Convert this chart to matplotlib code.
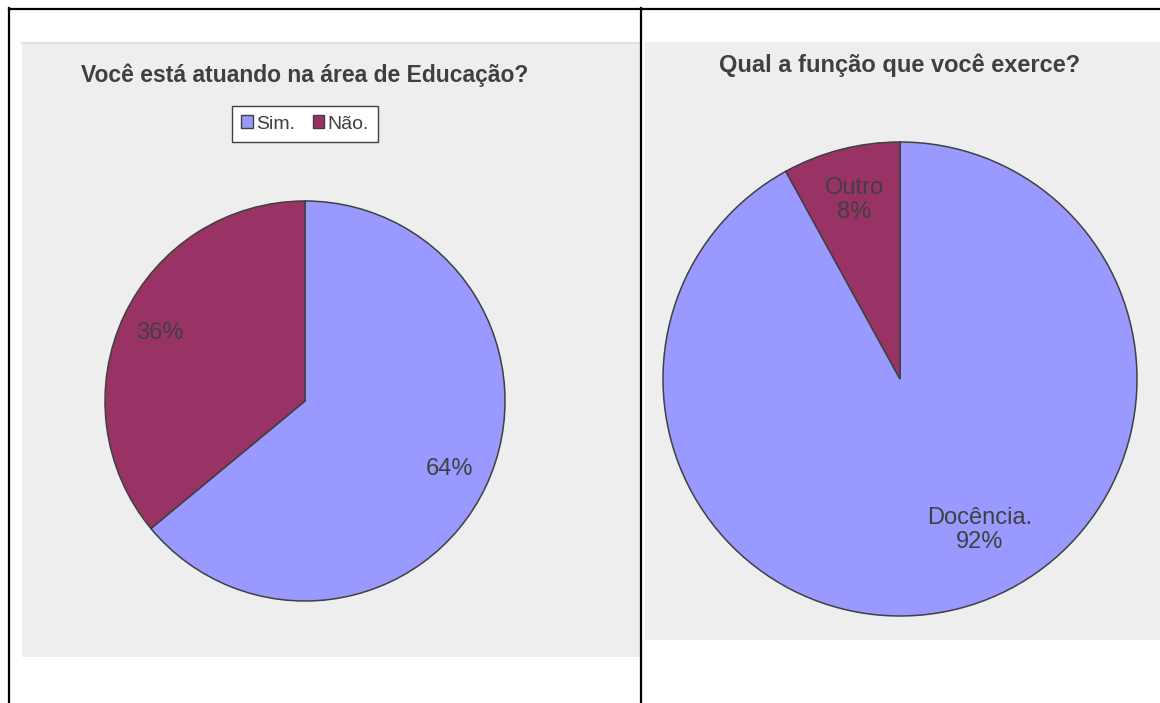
# duas pizzas lado a lado, dentro de uma moldura de tabela
import matplotlib.pyplot as plt
import numpy as np
from matplotlib.patches import Rectangle, Patch

plt.rcParams['font.family'] = ['Liberation Sans', 'DejaVu Sans']

W, H = 1160, 703

# dados
q1_title = "Você está atuando na área de Educação?"
q1_labels = ["Sim.", "Não."]
q1_values = [64, 36]

q2_title = "Qual a função que você exerce?"
q2_labels = ["Docência.", "Outro"]
q2_values = [92, 8]

cores = ["#9999FF", "#993366"]
txt = "#404040"


def Y(y):
    # y em pixels (de cima) -> coordenada do eixo
    return H - y


fig = plt.figure(figsize=(W / 100, H / 100), dpi=100)
ax = fig.add_axes([0, 0, 1, 1])

# paineis cinza
ax.add_patch(Rectangle((22, Y(657)), 618, 615, facecolor="#EEEEEE",
                       edgecolor="none", zorder=0))
ax.plot([22, 640], [Y(42.5), Y(42.5)], color="#E2E2E2", lw=1.5, zorder=1)
ax.add_patch(Rectangle((645, Y(640)), 515, 598, facecolor="#EEEEEE",
                       edgecolor="none", zorder=0))

# moldura da tabela
ax.plot([9, 9], [Y(8), Y(703)], color="black", lw=1.6, zorder=5)
ax.plot([9, 1160], [Y(9), Y(9)], color="black", lw=1.6, zorder=5)
ax.plot([641, 641], [Y(8), Y(703)], color="black", lw=1.6, zorder=5)

# pizza 1
w1, _, at1 = ax.pie(q1_values, colors=cores, startangle=90, counterclock=False,
                    center=(305, Y(401)), radius=200, frame=True,
                    autopct=lambda p: "%d%%" % round(p), pctdistance=0.8,
                    wedgeprops=dict(edgecolor=txt, linewidth=1.1),
                    textprops=dict(color=txt, fontsize=17))
ax.text(305, Y(75), q1_title, ha="center", va="center", fontsize=16.5,
        fontweight="bold", color=txt)

# pizza 2
R2 = 237
c2 = (900, Y(379))
w2 = ax.pie(q2_values, colors=cores, startangle=90, counterclock=False,
            center=c2, radius=R2, frame=True,
            wedgeprops=dict(edgecolor=txt, linewidth=1.1))[0]
ax.text(900, Y(65), q2_title, ha="center", va="center", fontsize=17,
        fontweight="bold", color=txt)

# rotulos (distancia, desvio de angulo) por fatia
desvio = [(0.72, 13.5), (0.78, 0)]
for w, lab, v, (d, da) in zip(w2, q2_labels, q2_values, desvio):
    ang = np.radians((w.theta1 + w.theta2) / 2 + da)
    ax.text(c2[0] + d * R2 * np.cos(ang), c2[1] + d * R2 * np.sin(ang),
            "%s\n%d%%" % (lab, v), ha="center", va="center", fontsize=17,
            color=txt, linespacing=1.12)

# legenda da pizza 1
hand = [Patch(facecolor=c, edgecolor=txt, linewidth=1) for c in cores]
ax.legend(hand, q1_labels, loc="center", bbox_to_anchor=(305 / W, 1 - 124 / H),
          ncol=2, frameon=True, fancybox=False, edgecolor=txt, framealpha=1,
          fontsize=14, handlelength=0.6, handleheight=0.6, handletextpad=0.15,
          columnspacing=0.9, borderpad=0.5, labelcolor=txt)

ax.set_xlim(0, W)
ax.set_ylim(0, H)
ax.set_aspect("auto")
ax.axis("off")

fig.savefig("out.png", dpi=100)
